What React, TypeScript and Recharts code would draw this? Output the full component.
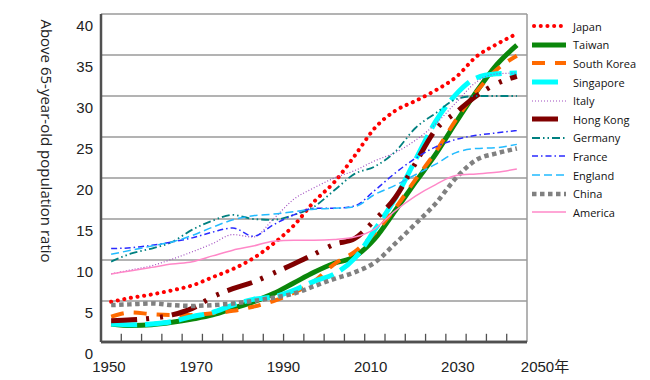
import React from 'react'
import { LineChart, Line, XAxis, YAxis, CartesianGrid, ReferenceLine } from 'recharts'

// share of population aged 65+ (%), every 5 years
const years = [1950, 1955, 1960, 1965, 1970, 1975, 1980, 1985, 1990, 1995, 2000, 2005, 2010, 2015, 2020, 2025, 2030, 2035, 2040, 2045, 2050]
const japan = [4.9, 5.4, 5.8, 6.3, 6.9, 7.9, 8.9, 10.2, 12.0, 14.2, 17.1, 19.5, 22.7, 26.1, 28.2, 29.4, 30.7, 32.3, 34.8, 36.3, 37.6]
const taiwan = [2.2, 2.0, 2.1, 2.4, 2.8, 3.3, 4.1, 4.9, 5.9, 7.2, 8.5, 9.6, 10.4, 12.6, 16.0, 19.5, 22.9, 26.8, 30.5, 33.8, 36.2]
const southKorea = [3.1, 3.6, 3.4, 3.3, 3.3, 3.5, 3.8, 4.3, 5.0, 6.0, 7.4, 9.5, 11.0, 13.3, 16.3, 19.8, 23.2, 27.1, 30.5, 33.2, 34.9]
const singapore = [2.2, 2.1, 2.2, 2.5, 3.1, 3.6, 4.5, 5.2, 5.5, 6.3, 7.4, 8.3, 10.2, 13.7, 17.5, 22.2, 26.9, 30.2, 32.2, 32.7, 32.8]
const italy = [8.3, 8.8, 9.3, 10.1, 11.0, 12.0, 13.1, 12.8, 15.0, 17.4, 18.8, 20.0, 20.9, 22.1, 23.1, 24.6, 26.6, 29.2, 31.7, 32.7, 32.8]
const hongKong = [2.6, 2.7, 2.9, 3.3, 4.1, 5.5, 6.5, 7.3, 8.4, 9.5, 10.7, 11.9, 12.6, 14.9, 17.6, 21.8, 25.9, 28.0, 30.0, 31.5, 32.4]
const germany = [9.8, 10.8, 11.4, 12.2, 13.7, 14.8, 15.5, 15.0, 14.9, 15.5, 16.5, 18.5, 20.5, 21.4, 23.2, 26.1, 27.9, 29.6, 30.0, 30.0, 30.0]
const france = [11.4, 11.5, 11.8, 12.2, 12.7, 13.4, 13.9, 12.9, 14.3, 15.5, 16.3, 16.3, 16.6, 18.5, 20.6, 22.4, 23.8, 24.7, 25.2, 25.5, 25.8]
const england = [10.7, 11.2, 11.7, 12.2, 13.0, 14.0, 14.9, 15.4, 15.6, 15.9, 16.2, 16.3, 16.5, 18.0, 19.1, 20.4, 21.7, 23.1, 23.6, 23.7, 24.1]
const china = [4.5, 4.6, 4.7, 4.5, 4.4, 4.5, 4.7, 5.0, 5.4, 5.9, 6.8, 7.7, 8.5, 9.7, 12.0, 14.4, 16.9, 20.0, 22.2, 23.0, 23.6]
const america = [8.3, 8.7, 9.1, 9.5, 9.8, 10.5, 11.2, 11.7, 12.3, 12.4, 12.4, 12.5, 12.8, 13.8, 16.0, 17.8, 19.2, 20.3, 20.5, 20.7, 21.1]

const yTicks = [0, 5, 10, 15, 20, 25, 30, 35, 40]
const yearTicks = [1950, 1970, 1990, 2010, 2030, 2050]
const yearLabels = ['1950', '1970', '1990', '2010', '2030', '2050年']
// category boundaries for the small tick marks
const tickMarks = [1952.5, 1957.5, 1962.5, 1967.5, 1972.5, 1977.5, 1982.5, 1987.5, 1992.5, 1997.5, 2002.5, 2007.5, 2012.5, 2017.5, 2022.5, 2027.5, 2032.5, 2037.5, 2042.5, 2047.5]

const series = [
  { key: 'japan', name: 'Japan', values: japan, color: '#ff0000', width: 4, dash: '0.1 6.6', cap: 'round' },
  { key: 'taiwan', name: 'Taiwan', values: taiwan, color: '#0b870b', width: 5, dash: undefined, cap: 'butt' },
  { key: 'southKorea', name: 'South Korea', values: southKorea, color: '#ff6a00', width: 4, dash: '13 10', cap: 'butt' },
  { key: 'singapore', name: 'Singapore', values: singapore, color: '#00ffff', width: 5, dash: '26 8', cap: 'butt' },
  { key: 'italy', name: 'Italy', values: italy, color: '#a04cc0', width: 1.2, dash: '1 2', cap: 'butt' },
  { key: 'hongKong', name: 'Hong Kong', values: hongKong, color: '#800000', width: 5, dash: '26 9 3 11 3 9', cap: 'butt' },
  { key: 'germany', name: 'Germany', values: germany, color: '#008080', width: 1.8, dash: '8 3 1.5 3 1.5 3', cap: 'butt' },
  { key: 'france', name: 'France', values: france, color: '#2a2aff', width: 1.5, dash: '6 3 1.5 3', cap: 'butt' },
  { key: 'england', name: 'England', values: england, color: '#22bbff', width: 1.5, dash: '8 4', cap: 'butt' },
  { key: 'china', name: 'China', values: china, color: '#808080', width: 4.5, dash: '4.5 3.5', cap: 'butt' },
  { key: 'america', name: 'America', values: america, color: '#ff88c8', width: 1.5, dash: undefined, cap: 'butt' },
]

const data = years.map((year, i) => {
  const row: Record<string, number> = { year }
  series.forEach((s) => { row[s.key] = s.values[i] })
  return row
})

const numFont = '"Liberation Sans", Arial, "Noto Sans CJK JP", sans-serif'

const YTick = ({ x, y, payload }: any) => (
  <text x={x} y={y} dy={17} textAnchor="end" fontSize={15} fontFamily={numFont} fill="#222">
    {payload.value}
  </text>
)

const YearTick = ({ x, y, payload }: any) => (
  <text x={x} y={y} dy={20} textAnchor="middle" fontSize={15} fontFamily={numFont} fill="#222">
    {yearLabels[yearTicks.indexOf(payload.value)]}
  </text>
)

const AxisTitle = ({ viewBox }: any) => {
  const cx = viewBox.x + 6
  const cy = viewBox.y + viewBox.height / 2 - 37
  return (
    <text x={cx} y={cy} transform={`rotate(90 ${cx} ${cy})`} textAnchor="middle" dominantBaseline="central"
      fontSize={15} fontFamily='"Open Sans", sans-serif' fill="#222">
      Above 65-year-old population ratio
    </text>
  )
}

export default function App() {
  return (
    <div style={{ position: 'absolute', left: 0, top: 0, width: 650, height: 380, background: '#fff' }}>
      <LineChart width={650} height={380} data={data} margin={{ top: 14, right: 123, bottom: 0, left: 41 }}>
        <CartesianGrid vertical={false} stroke="#9a9a9a" strokeWidth={1.5} />
        <XAxis xAxisId="data" dataKey="year" type="number" domain={[1947.5, 2052.5]} height={10}
          tick={false} tickLine={false} axisLine={{ stroke: '#505050', strokeWidth: 2.5 }} />
        <XAxis xAxisId="labels" dataKey="year" type="number" domain={[1948.17, 2045.87]} allowDataOverflow ticks={yearTicks} interval={0}
          height={28} axisLine={false} tickLine={false} tickSize={0} tickMargin={0} tick={<YearTick />} />
        <YAxis domain={[0, 40]} ticks={yTicks} interval={0} width={60} tickLine={false}
          axisLine={{ stroke: '#505050', strokeWidth: 2.5 }} tick={<YTick />} label={AxisTitle} />
        <ReferenceLine xAxisId="data" x={2052.5} stroke="#9a9a9a" strokeWidth={1.5} />
        <ReferenceLine xAxisId="data" y={0} stroke="#505050" strokeWidth={2.5} />
        {tickMarks.map((t) => (
          <ReferenceLine key={t} xAxisId="data" ifOverflow="visible" segment={[{ x: t, y: 0 }, { x: t, y: 1 }]}
            stroke="#505050" strokeWidth={1.3} />
        ))}
        {series.map((s) => (
          <Line key={s.key} xAxisId="data" type="monotone" dataKey={s.key} name={s.name} stroke={s.color}
            strokeWidth={s.width} strokeDasharray={s.dash} strokeLinecap={s.cap as any} dot={false}
            activeDot={false} isAnimationActive={false} />
        ))}
      </LineChart>
      <div style={{ position: 'absolute', left: 532, top: 17, fontFamily: '"Open Sans", sans-serif', fontSize: 11, color: '#111' }}>
        {series.map((s) => (
          <div key={s.key} style={{ display: 'flex', alignItems: 'center', height: 18.6 }}>
            <svg width={34} height={10}>
              <line x1={s.cap === 'round' ? 2 : 0} y1={5} x2={34} y2={5} stroke={s.color} strokeWidth={s.width}
                strokeDasharray={s.dash} strokeLinecap={s.cap as any} />
            </svg>
            <span style={{ marginLeft: 7 }}>{s.name}</span>
          </div>
        ))}
      </div>
    </div>
  )
}
